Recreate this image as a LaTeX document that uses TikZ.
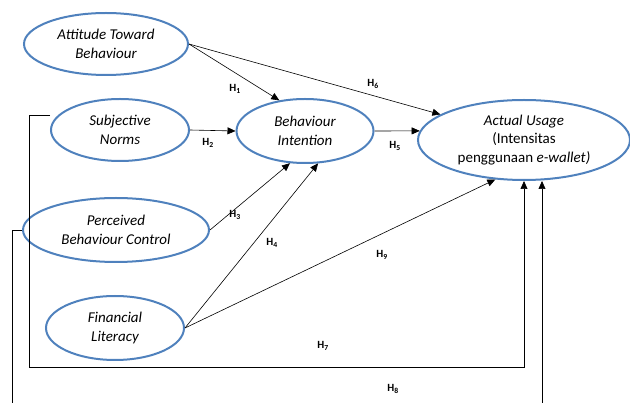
\documentclass[tikz,border=0pt]{standalone}
\usepackage{fontspec}
\setmainfont{Carlito}
\usetikzlibrary{shapes.geometric,arrows.meta}
\definecolor{ellblue}{RGB}{79,129,189}

\begin{document}
\begin{tikzpicture}[x=1pt,y=-1pt,
  construct/.style={ellipse,draw=ellblue,line width=2pt,inner sep=0pt,align=center,
    font=\fontsize{15}{18.5}\selectfont\itshape},
  hyp/.style={font=\fontsize{11}{13}\selectfont\bfseries},
  arr/.style={-{Triangle[length=8pt,width=7pt]},line width=0.6pt}]
\useasboundingbox (0,0) rectangle (630,403);
\node[construct,minimum width=164pt,minimum height=62pt] (att) at (106,44) {Attitude Toward\\Behaviour};
\node[construct,minimum width=138pt,minimum height=62pt] (sn) at (120,130) {Subjective\\Norms};
\node[construct,minimum width=137pt,minimum height=64pt] (bi) at (305,131) {Behaviour\\Intention};
\node[construct,minimum width=212pt,minimum height=80pt] (au) at (524,140) {Actual Usage\\{\upshape(Intensitas}\\{\upshape penggunaan} e-wallet)};
\node[construct,minimum width=186pt,minimum height=64pt] (pbc) at (116,230) {Perceived\\Behaviour Control};
\node[construct,minimum width=138pt,minimum height=64pt] (fl) at (115,328) {Financial\\Literacy};
\coordinate (h7c) at (29,367);
\coordinate (h8a) at (12,403);
\coordinate (h8b) at (542,403);
\draw[arr] (att.east) -- (bi.130);
\draw[arr] (att.east) -- (au.163);
\draw[arr] (sn.east) -- (bi.west);
\draw[arr] (bi.east) -- (au.175);
\draw[arr] (pbc.east) -- (bi.-115);
\draw[arr] (fl.east) -- (bi.-68);
\draw[arr] (fl.east) -- (au.-126);
\draw[arr] (sn.west) ++(0,-15) -| (h7c) -| (au.south);
\draw[line width=0.6pt] (pbc.west) -| (h8a);
\draw[arr] (h8b) -- (h8b |- au.south);
\node[hyp] (l1) at (235,89) {H\textsubscript{1}};
\node[hyp] (l2) at (208,143) {H\textsubscript{2}};
\node[hyp] (l3) at (235,215) {H\textsubscript{3}};
\node[hyp] (l4) at (272,243) {H\textsubscript{4}};
\node[hyp] (l5) at (395,146) {H\textsubscript{5}};
\node[hyp] (l6) at (373,84) {H\textsubscript{6}};
\node[hyp] (l7) at (323,346) {H\textsubscript{7}};
\node[hyp] (l8) at (393,389) {H\textsubscript{8}};
\node[hyp] (l9) at (382,255) {H\textsubscript{9}};
\end{tikzpicture}
\end{document}
